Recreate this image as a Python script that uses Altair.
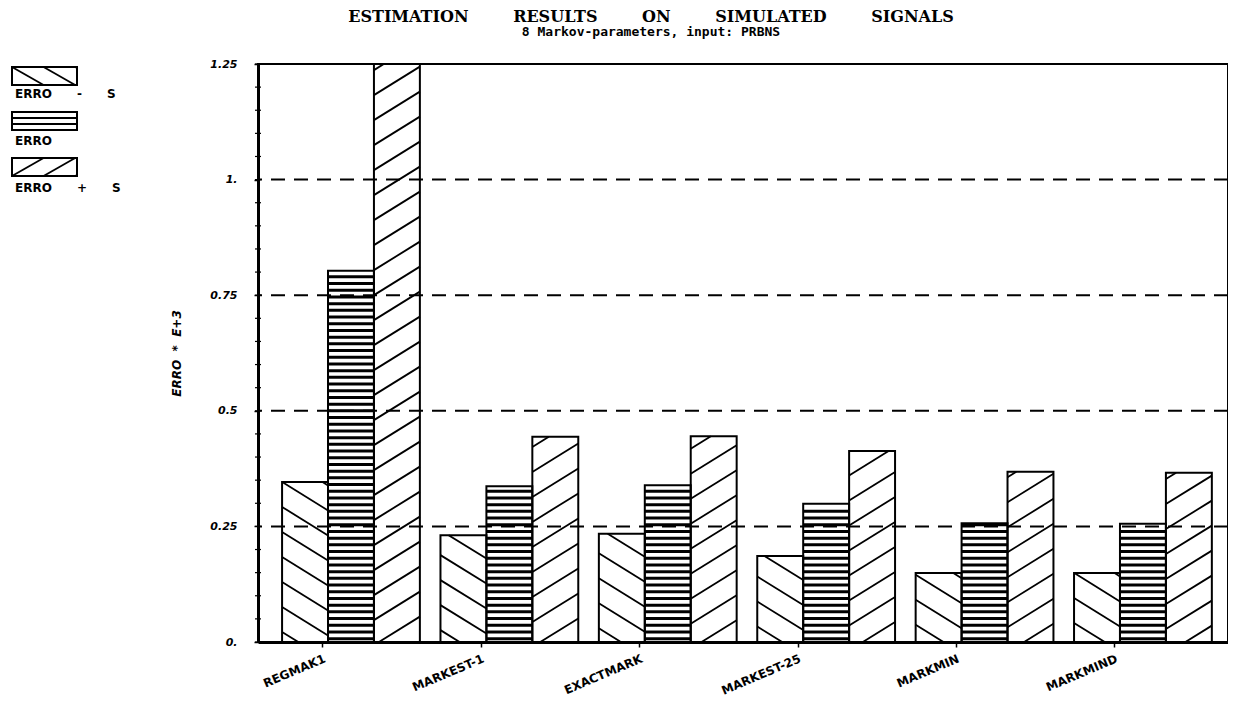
import math
import altair as alt
import pandas as pd

# ---------------- data ----------------
categories = ["REGMAK1", "MARKEST-1", "EXACTMARK", "MARKEST-25", "MARKMIN", "MARKMIND"]
series_names = ["ERRO - S", "ERRO", "ERRO + S"]
erro_minus_s = [0.346, 0.231, 0.234, 0.186, 0.149, 0.149]
erro = [0.803, 0.337, 0.339, 0.299, 0.257, 0.256]
erro_plus_s = [1.25, 0.444, 0.445, 0.413, 0.368, 0.366]
y_tick_values = [0.0, 0.25, 0.5, 0.75, 1.0, 1.25]
y_tick_labels = ["0.", "0.25", "0.5", "0.75", "1.", "1.25"]
grid_levels = [0.25, 0.5, 0.75, 1.0]
minor_ticks = [round(i * 0.05, 2) for i in range(26)]
title_words = ["ESTIMATION", "RESULTS", "ON", "SIMULATED", "SIGNALS"]
subtitle = "8 Markov-parameters, input: PRBNS"
y_title = "ERRO * E+3"

# ---------------- layout ----------------
W, H = 970, 578
XMIN, XMAX = -0.587, 5.537
YMAX = 1.25
PX = W / (XMAX - XMIN)
PY = H / YMAX
BAR_W = 0.29
OFFSETS = [-0.29, 0.0, 0.29]
LABEL_SHIFT = -0.18
PATTERNS = ["back", "horiz", "fwd"]

DIAG_SLOPE = 0.62
DIAG_SPACING = 25.0
HORIZ_SPACING = 6.7
NB = "\u00a0"


def clip(slope, c, w, h):
    pts = []
    for x in (0.0, w):
        y = slope * x + c
        if -1e-9 <= y <= h + 1e-9:
            pts.append((x, y))
    if slope != 0:
        for y in (0.0, h):
            x = (y - c) / slope
            if 1e-9 < x < w - 1e-9:
                pts.append((x, y))
    if len(pts) < 2:
        return None
    pts.sort()
    (xa, ya), (xb, yb) = pts[0], pts[-1]
    if abs(xb - xa) < 1.5 and abs(yb - ya) < 1.5:
        return None
    return xa, ya, xb, yb


def diag_segments(x0_abs, w, h, slope, spacing):
    segs = []
    base = slope * x0_abs
    lo = min(0.0, -slope * w) - spacing
    hi = h + max(0.0, -slope * w) + spacing
    kmin = math.floor((lo - base) / spacing)
    kmax = math.ceil((hi - base) / spacing)
    for k in range(kmin, kmax + 1):
        s = clip(slope, base + k * spacing, w, h)
        if s:
            segs.append(s)
    return segs


values_by_series = [erro_minus_s, erro, erro_plus_s]
bar_rows, diag_rows, horiz_rows = [], [], []
for si, (sname, vals) in enumerate(zip(series_names, values_by_series)):
    for ci, cat in enumerate(categories):
        v = vals[ci]
        xc = ci + OFFSETS[si]
        xl, xr = xc - BAR_W / 2, xc + BAR_W / 2
        bar_rows.append({"cat": cat, "series": sname, "xl": xl, "xr": xr, "value": v, "base": 0.0})
        w_px = (xr - xl) * PX
        h_px = v * PY
        x0_abs = (xl - XMIN) * PX
        pat = PATTERNS[si]
        if pat == "horiz":
            y = HORIZ_SPACING / 2
            while y < h_px - 1.5:
                horiz_rows.append({"x1": xl, "x2": xr, "y1": y / PY})
                y += HORIZ_SPACING
        else:
            slope = DIAG_SLOPE if pat == "fwd" else -DIAG_SLOPE
            for xa, ya, xb, yb in diag_segments(x0_abs, w_px, h_px, slope, DIAG_SPACING):
                diag_rows.append({"x1": xl + xa / PX, "x2": xl + xb / PX,
                                  "y1": ya / PY, "y2": yb / PY})

bars_df = pd.DataFrame(bar_rows)
diag_df = pd.DataFrame(diag_rows)
horiz_df = pd.DataFrame(horiz_rows)

xscale = alt.Scale(domain=[XMIN, XMAX], nice=False, zero=False)
yscale = alt.Scale(domain=[0, YMAX], nice=False, zero=True)

cat_js = "[" + ",".join("'%s'" % c for c in categories) + "]"
ylab_js = "[" + ",".join("'%s'" % t for t in y_tick_labels) + "]"
ytick_js = "[" + ",".join(repr(t) for t in y_tick_values) + "]"

x_axis = alt.Axis(
    values=[i + LABEL_SHIFT for i in range(len(categories))],
    labelExpr=cat_js + "[round(datum.value + %s)]" % (-LABEL_SHIFT),
    labelAngle=-23, labelAlign="right", labelBaseline="top",
    labelFont="DejaVu Sans", labelFontWeight="bold", labelFontSize=12,
    labelColor="black", labelPadding=6,
    tickSize=5, tickColor="black", tickWidth=1.5,
    domainColor="black", domainWidth=3,
    grid=False, title=None,
)
y_axis = alt.Axis(
    values=y_tick_values,
    labelExpr=ylab_js + "[indexof(" + ytick_js + ", datum.value)]",
    labelFont="DejaVu Sans", labelFontWeight="bold", labelFontStyle="italic",
    labelFontSize=11, labelColor="black", labelPadding=17,
    tickSize=4, tickColor="black", tickWidth=1.5,
    domainColor="black", domainWidth=3,
    grid=False,
    title=y_title.replace(" ", NB * 2), titleFont="DejaVu Sans", titleFontWeight="bold",
    titleFontStyle="italic", titleFontSize=12, titleColor="black", titlePadding=26,
)

bars = alt.Chart(bars_df)
white = bars.mark_rect(fill="white", strokeWidth=0).encode(
    x=alt.X("xl:Q", scale=xscale, axis=x_axis),
    x2="xr:Q",
    y=alt.Y("value:Q", scale=yscale, axis=y_axis),
    y2="base:Q",
)
diag = alt.Chart(diag_df).mark_rule(color="black", strokeWidth=1.8).encode(
    x=alt.X("x1:Q", scale=xscale, axis=x_axis), x2="x2:Q",
    y=alt.Y("y1:Q", scale=yscale, axis=y_axis), y2="y2:Q",
)
horiz = alt.Chart(horiz_df).mark_rule(color="black", strokeWidth=3).encode(
    x=alt.X("x1:Q", scale=xscale, axis=x_axis), x2="x2:Q",
    y=alt.Y("y1:Q", scale=yscale, axis=y_axis),
)
outline = bars.mark_rect(fill="transparent", stroke="black", strokeWidth=2).encode(
    x=alt.X("xl:Q", scale=xscale, axis=x_axis), x2="xr:Q",
    y=alt.Y("value:Q", scale=yscale, axis=y_axis), y2="base:Q",
)
grid = alt.Chart(pd.DataFrame({"g": grid_levels})).mark_rule(
    color="black", strokeWidth=2, strokeDash=[14, 9]
).encode(y=alt.Y("g:Q", scale=yscale, axis=y_axis))
minor = alt.Chart(pd.DataFrame({"t": minor_ticks})).mark_rule(
    color="black", strokeWidth=1.2
).encode(y=alt.Y("t:Q", scale=yscale, axis=y_axis), x=alt.value(-3), x2=alt.value(3))

one = pd.DataFrame({"a": [0]})

# ---------------- titles as text ----------------
title_text = (NB * 7 + " ").join(title_words)
title_mark = alt.Chart(one).mark_text(
    align="center", baseline="alphabetic", font="DejaVu Serif",
    fontSize=16, fontWeight="bold", color="black"
).encode(x=alt.value(393), y=alt.value(-42), text=alt.value(title_text))
subtitle_mark = alt.Chart(one).mark_text(
    align="center", baseline="alphabetic", font="DejaVu Sans Mono",
    fontSize=13, fontWeight="bold", color="black"
).encode(x=alt.value(393), y=alt.value(-28), text=alt.value(subtitle))

# ---------------- custom legend (outside the plot, left) ----------------
legend_layers = []
SW_X0, SW_W, SW_H = -246, 65, 18
sw_tops = [3, 48, 94]
lab_y = [34, 81, 128]
legend_texts = [s.replace(" ", NB * 6) for s in series_names]
for si, sname in enumerate(series_names):
    top = sw_tops[si]
    pat = PATTERNS[si]
    legend_layers.append(
        alt.Chart(one).mark_rect(fill="white", stroke="black", strokeWidth=2).encode(
            x=alt.value(SW_X0), x2=alt.value(SW_X0 + SW_W),
            y=alt.value(top), y2=alt.value(top + SW_H))
    )
    if pat == "horiz":
        for f in (1 / 3, 2 / 3):
            yy = top + SW_H * f
            legend_layers.append(
                alt.Chart(one).mark_rule(color="black", strokeWidth=2).encode(
                    x=alt.value(SW_X0), x2=alt.value(SW_X0 + SW_W),
                    y=alt.value(yy), y2=alt.value(yy))
            )
    else:
        slope = 0.57 if pat == "fwd" else -0.57
        for xa, ya, xb, yb in diag_segments(0.0, SW_W, SW_H, slope, 18.0):
            legend_layers.append(
                alt.Chart(one).mark_rule(color="black", strokeWidth=1.8).encode(
                    x=alt.value(SW_X0 + xa), x2=alt.value(SW_X0 + xb),
                    y=alt.value(top + SW_H - ya), y2=alt.value(top + SW_H - yb))
            )
    legend_layers.append(
        alt.Chart(one).mark_text(
            align="left", baseline="alphabetic", font="DejaVu Sans",
            fontWeight="bold", fontSize=12, color="black"
        ).encode(x=alt.value(SW_X0 + 3), y=alt.value(lab_y[si]), text=alt.value(legend_texts[si]))
    )

chart = alt.layer(
    white, diag, horiz, outline, grid, minor, title_mark, subtitle_mark, *legend_layers
).properties(
    width=W, height=H,
    autosize=alt.AutoSizeParams(type="none"),
    padding={"left": 250, "top": 56, "right": 0, "bottom": 55},
).configure(background="white").configure_view(stroke="black", strokeWidth=2)

chart.save("out.html", embed_options={"renderer": "svg", "actions": False})
